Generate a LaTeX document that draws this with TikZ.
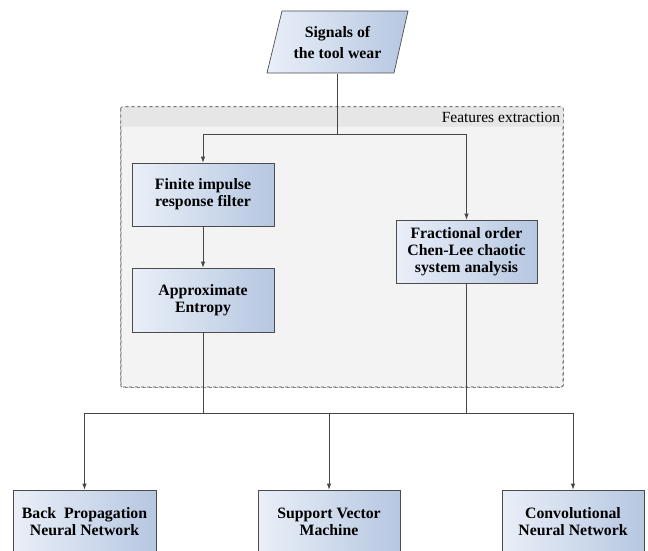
\documentclass[tikz,border=0pt]{standalone}
\usepackage{fontspec}
\setmainfont{Liberation Serif}
\usepackage{tikz}
\usetikzlibrary{arrows.meta, positioning, calc}
\definecolor{boxleft}{RGB}{234,239,248}
\definecolor{boxright}{RGB}{182,199,225}
\definecolor{lineclr}{RGB}{70,70,70}
\definecolor{regionfill}{RGB}{243,243,243}
\definecolor{bandfill}{RGB}{230,230,230}

\begin{document}
\begin{tikzpicture}[x=1pt, y=-1pt,
    font=\fontsize{15.5}{17}\selectfont,
    blk/.style={draw=black!70, line width=0.7pt, left color=boxleft, right color=boxright,
        minimum width=142pt, minimum height=63pt, inner sep=0pt, align=center, font=\fontsize{15.8}{17}\selectfont\bfseries},
    conn/.style={draw=lineclr, line width=0.8pt},
    arr/.style={conn, -{Latex[length=6pt, width=4.5pt]}},
    region/.style={draw=black!70, dashed, line width=0.6pt, rounded corners=2pt, fill=regionfill}
]
    \useasboundingbox (0,0) rectangle (648,551);

    % features extraction region
    \node[region, minimum width=442pt, minimum height=280pt, inner sep=0pt] (fe) at (342,247) {};
    \fill[bandfill, rounded corners=2pt] (fe.north west) rectangle ($(fe.north east)+(0,20)$);
    \draw[region, fill=none] (fe.north west) rectangle (fe.south east);
    \node[anchor=east, inner sep=0pt] (felab) at ($(fe.north east)+(-3,11)$) {Features extraction};

    % input signals
    \shade[left color=boxleft, right color=boxright, draw=black!70, line width=0.7pt]
        (282,11) -- (408,11) -- (394,73) -- (267,73) -- cycle;
    \node[align=center, font=\fontsize{15.8}{21}\selectfont\bfseries, minimum height=62pt, inner sep=0pt] (sig) at (337.5,43) {Signals of\\the tool wear};

    % feature blocks
    \node[blk] (fir) at (203,194.5) {Finite impulse\\response filter};
    \node[blk, minimum height=64pt] (apen) at (203,300) {Approximate\\Entropy};
    \node[blk, minimum width=141pt] (frac) at (466.5,251.5) {Fractional order\\Chen-Lee chaotic\\system analysis};

    % classifiers
    \node[blk, minimum width=143pt] (bp) at (84.5,521.5) {Back~ Propagation\\Neural Network};
    \node[blk] (svm) at (329,521.5) {Support Vector\\Machine};
    \node[blk] (cnn) at (573,521.5) {Convolutional\\Neural Network};

    % connectors
    \coordinate (split) at ($(sig.south)+(0,60)$);
    \draw[conn] (sig.south) -- (split);
    \draw[arr] (split) -| (fir.north);
    \draw[arr] (split) -| (frac.north);
    \draw[arr] (fir) -- (apen);

    \coordinate (bus) at (0,413);
    \draw[conn] (apen.south) -- (apen.south |- bus);
    \draw[conn] (frac.south) -- (frac.south |- bus);
    \draw[conn] (bp.north |- bus) -- (cnn.north |- bus);
    \draw[arr] (bp.north |- bus) -- (bp.north);
    \draw[arr] (svm.north |- bus) -- (svm.north);
    \draw[arr] (cnn.north |- bus) -- (cnn.north);
\end{tikzpicture}
\end{document}
